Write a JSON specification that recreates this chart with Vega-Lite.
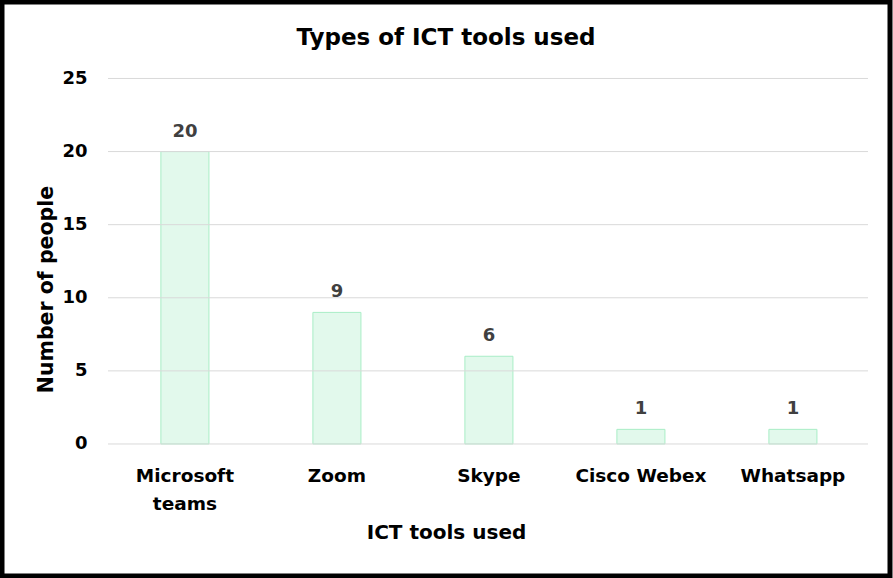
{
  "$schema": "https://vega.github.io/schema/vega-lite/v6.json",
  "width": 888,
  "height": 574,
  "autosize": {"type": "none"},
  "padding": {"left": 2, "top": 2, "right": 3, "bottom": 2},
  "background": "white",
  "config": {"view": {"stroke": "black", "strokeWidth": 5, "fill": "white"}, "font": "DejaVu Sans"},
  "title": {"text": "Types of ICT tools used", "fontSize": 23, "fontWeight": "bold", "color": "black", "anchor": "middle", "offset": -66, "baseline": "alphabetic"},
  "datasets": {
    "tools": [
      {"tool": "Microsoft teams", "people": 20},
      {"tool": "Zoom", "people": 9},
      {"tool": "Skype", "people": 6},
      {"tool": "Cisco Webex", "people": 1},
      {"tool": "Whatsapp", "people": 1}
    ],
    "grid": [{"v": 0}, {"v": 5}, {"v": 10}, {"v": 15}, {"v": 20}, {"v": 25}]
  },
  "layer": [
    {
      "data": {"name": "tools"},
      "mark": {"type": "bar", "fill": "#e2f9ec", "stroke": "#a8edc6", "strokeWidth": 1},
      "encoding": {
        "x": {
          "field": "tool", "type": "nominal", "sort": null,
          "scale": {"domain": ["Microsoft teams", "Zoom", "Skype", "Cisco Webex", "Whatsapp"], "paddingInner": 0.684, "paddingOuter": 0.763, "align": 0.685},
          "axis": {
            "title": "ICT tools used", "labelAngle": 0, "domain": false, "ticks": false, "tickSize": 0, "grid": false,
            "offset": -132, "labelPadding": 22, "labelFontSize": 18.5, "labelFontWeight": "bold", "labelColor": "black",
            "labelLineHeight": 28, "labelLimit": 300,
            "labelExpr": "datum.value == 'Microsoft teams' ? ['Microsoft', 'teams'] : datum.label",
            "titleFontSize": 20, "titleFontWeight": "bold", "titleColor": "black", "titlePadding": 10
          }
        },
        "y": {
          "field": "people", "type": "quantitative",
          "scale": {"domain": [-9.03, 30.23], "nice": false, "zero": false},
          "axis": {
            "title": "Number of people", "values": [0, 5, 10, 15, 20, 25], "grid": false, "domain": false, "ticks": false, "tickSize": 0,
            "offset": -106, "labelPadding": 21, "labelFontSize": 18, "labelFontWeight": "bold", "labelColor": "black",
            "titleFontSize": 20.5, "titleFontWeight": "bold", "titleColor": "black", "titlePadding": 5
          }
        },
        "y2": {"datum": 0}
      }
    },
    {
      "data": {"name": "grid"},
      "mark": {"type": "rule", "color": "#d9d9d9", "strokeWidth": 1},
      "encoding": {
        "y": {"field": "v", "type": "quantitative"},
        "x": {"datum": "Microsoft teams", "type": "nominal", "bandPosition": -1.101},
        "x2": {"datum": "Whatsapp", "bandPosition": 2.063}
      }
    },
    {
      "data": {"name": "tools"},
      "mark": {"type": "text", "dy": -15, "baseline": "alphabetic", "fontSize": 18, "fontWeight": "bold", "color": "#404040"},
      "encoding": {
        "x": {"field": "tool", "type": "nominal", "sort": null},
        "y": {"field": "people", "type": "quantitative"},
        "text": {"field": "people", "type": "quantitative"}
      }
    }
  ]
}
